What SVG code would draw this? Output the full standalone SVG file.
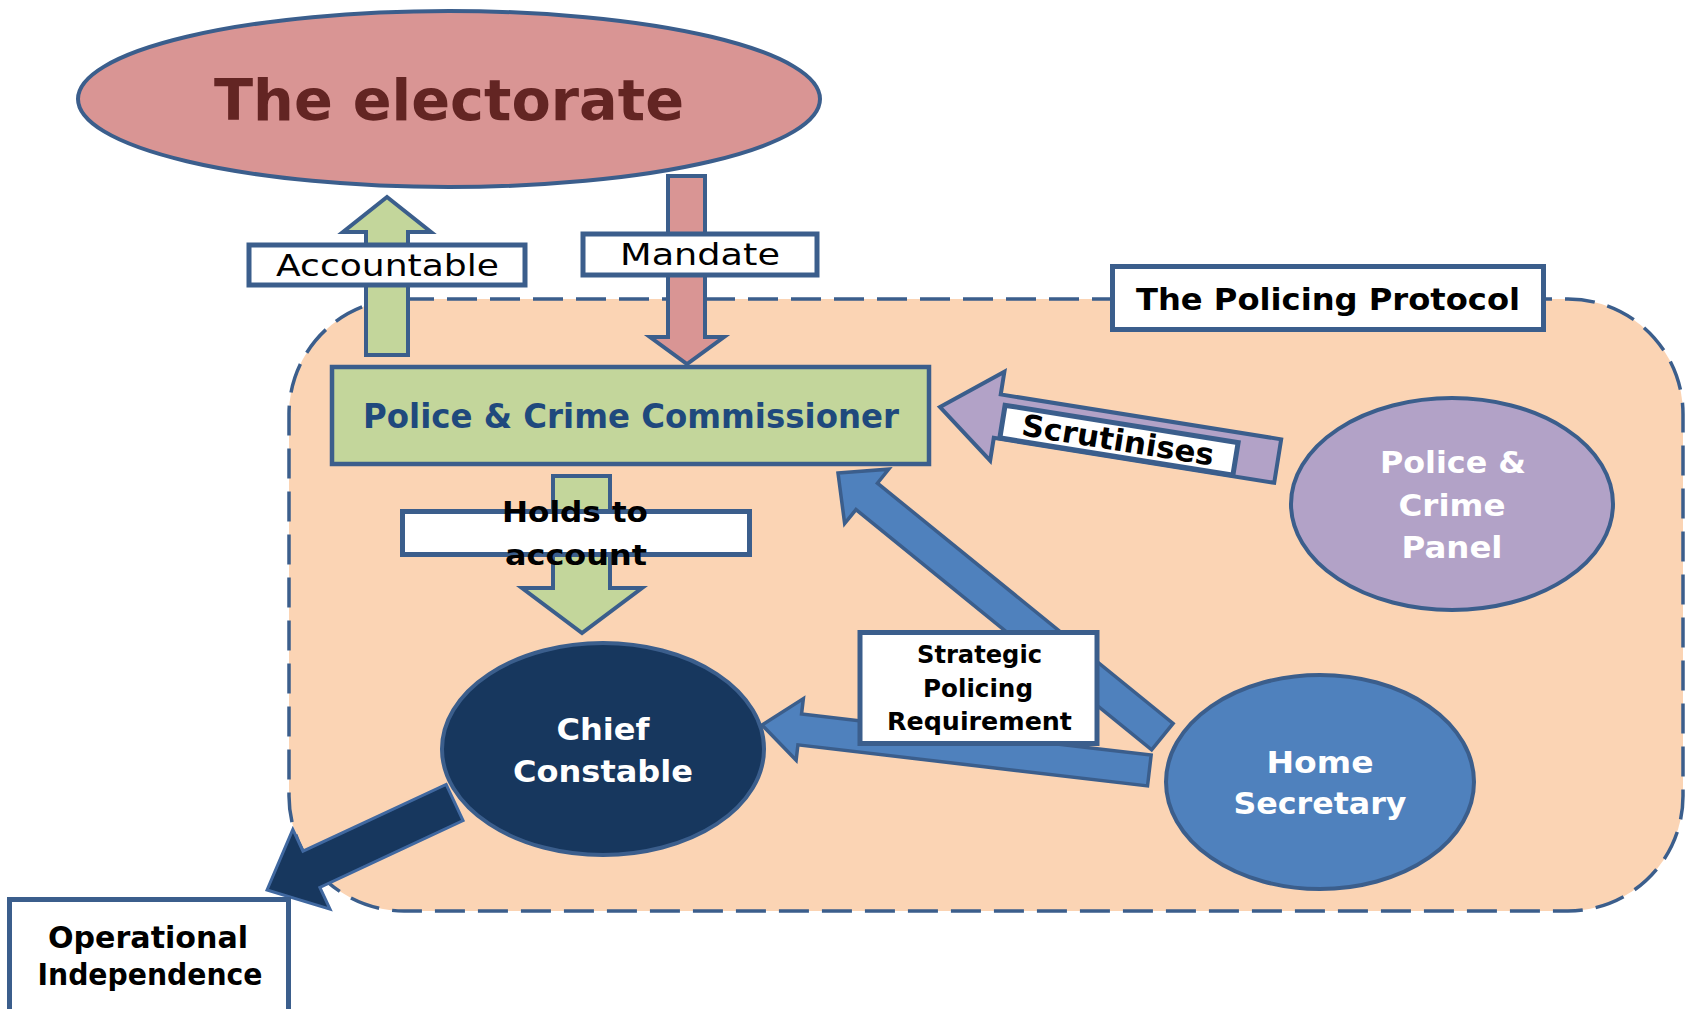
<svg xmlns="http://www.w3.org/2000/svg" width="1690" height="1009" viewBox="0 0 1690 1009">
<style>
text{font-family:"DejaVu Sans","Liberation Sans",sans-serif;text-anchor:middle}
.b{font-weight:bold}
.lbl{fill:#ffffff;stroke:#3b5e8c;stroke-width:5}
.arr{stroke:#3b5e8c;stroke-width:4;stroke-linejoin:miter}
.green{fill:#c3d69b}
.pink{fill:#d99594}
.purple{fill:#b2a2c7}
.blue{fill:#4f81bd;stroke-width:3.5}
.navy{fill:#17375e;stroke:#4068a0;stroke-width:3}
.wt{fill:#ffffff;font-weight:bold}
</style>
<rect width="1690" height="1009" fill="#ffffff"/>

<g id="policing-protocol-area">
<rect x="289" y="299" width="1394" height="612" rx="115" ry="115" fill="#fbd4b4" stroke="#3b5e8c" stroke-width="3.5" stroke-dasharray="30 13"/>
</g>

<g id="connectors">
<!-- Accountable: PCC up to electorate -->
<polygon class="arr green" points="366,355 366,232 343,232 387,197 431,232 408,232 408,355"/>
<!-- Mandate: electorate down to PCC -->
<polygon class="arr pink" points="668,176 705,176 705,337 724,337 687,364 650,337 668,337"/>
<!-- Holds to account: PCC down to Chief Constable -->
<polygon class="arr green" points="553,476 610,476 610,588 642,588 582,633 522,588 553,588"/>
<!-- Scrutinises: Panel to PCC -->
<g transform="translate(940,407) rotate(9.1)">
<polygon class="arr purple" stroke-width="5" points="0,0 58,-45 58,-22 342,-22 342,22 58,22 58,45"/>
<rect x="64" y="-12" width="236" height="33" class="lbl" stroke-width="4.5"/>
<text x="181" y="15" class="b" font-size="30" textLength="194" lengthAdjust="spacingAndGlyphs">Scrutinises</text>
</g>
<!-- Home Secretary to PCC -->
<g transform="translate(838,473) rotate(39.1)">
<polygon class="arr blue" points="0,0 37,-35 37,-17 418,-17 418,17 37,17 37,35"/>
</g>
<!-- Home Secretary to Chief Constable -->
<g transform="translate(762,725) rotate(6.7)">
<polygon class="arr blue" points="0,0 38,-31 38,-15.5 390,-15.5 390,15.5 38,15.5 38,31"/>
</g>
<!-- Chief Constable to Operational Independence -->
<g transform="translate(267,890) rotate(-25)">
<polygon class="navy" points="0,0 49,-44 49,-20 207,-20 207,20 49,20 49,44"/>
</g>
</g>

<g id="electorate">
<ellipse cx="449" cy="99" rx="371" ry="88" fill="#d99594" stroke="#3b5e8c" stroke-width="4"/>
<text x="449" y="120" class="b" font-size="57" fill="#632523" textLength="470" lengthAdjust="spacingAndGlyphs">The electorate</text>
</g>

<g id="label-accountable">
<rect x="249" y="245" width="276" height="40" class="lbl" stroke-width="4.5"/>
<text x="387.5" y="276" font-size="30" fill="#000" textLength="223" lengthAdjust="spacingAndGlyphs">Accountable</text>
</g>

<g id="label-mandate">
<rect x="583" y="234" width="234" height="41" class="lbl" stroke-width="4.5"/>
<text x="700" y="265" font-size="30" fill="#000" textLength="160" lengthAdjust="spacingAndGlyphs">Mandate</text>
</g>

<g id="label-policing-protocol">
<rect x="1112.5" y="266.5" width="431" height="63" class="lbl"/>
<text x="1328" y="310" class="b" font-size="31" fill="#000" textLength="384" lengthAdjust="spacingAndGlyphs">The Policing Protocol</text>
</g>

<g id="pcc">
<rect x="332" y="367" width="597" height="97" fill="#c3d69b" stroke="#3b5e8c" stroke-width="4.5"/>
<text x="631" y="428" class="b" font-size="33" fill="#1f497d" textLength="536" lengthAdjust="spacingAndGlyphs">Police &amp; Crime Commissioner</text>
</g>

<g id="label-holds-to-account">
<rect x="402.5" y="511.5" width="347" height="43" class="lbl"/>
<text x="575" y="522" class="b" font-size="28" fill="#000" textLength="146" lengthAdjust="spacingAndGlyphs">Holds to</text>
<text x="576" y="565" class="b" font-size="28" fill="#000" textLength="142" lengthAdjust="spacingAndGlyphs">account</text>
</g>

<g id="panel">
<ellipse cx="1452" cy="504" rx="161" ry="106" fill="#b2a2c7" stroke="#3b5e8c" stroke-width="4"/>
<text x="1453" y="473" class="wt" font-size="30" fill="#f4f0f8" textLength="146" lengthAdjust="spacingAndGlyphs">Police &amp;</text>
<text x="1452" y="516" class="wt" font-size="30" textLength="107" lengthAdjust="spacingAndGlyphs">Crime</text>
<text x="1452" y="558" class="wt" font-size="30" textLength="101" lengthAdjust="spacingAndGlyphs">Panel</text>
</g>

<g id="chief-constable">
<ellipse cx="603" cy="749" rx="161" ry="106" fill="#17375e" stroke="#3b5e8c" stroke-width="4"/>
<text x="603" y="740" class="wt" font-size="31" textLength="93" lengthAdjust="spacingAndGlyphs">Chief</text>
<text x="603" y="782" class="wt" font-size="31" textLength="180" lengthAdjust="spacingAndGlyphs">Constable</text>
</g>

<g id="home-secretary">
<ellipse cx="1320" cy="782" rx="154" ry="107" fill="#4f81bd" stroke="#3b5e8c" stroke-width="4"/>
<text x="1320" y="773" class="wt" font-size="30" textLength="107" lengthAdjust="spacingAndGlyphs">Home</text>
<text x="1320" y="814" class="wt" font-size="30" textLength="173" lengthAdjust="spacingAndGlyphs">Secretary</text>
</g>

<g id="label-strategic-policing-requirement">
<rect x="860" y="632.5" width="237" height="111" class="lbl"/>
<text x="979.5" y="663" class="b" font-size="24" fill="#000" textLength="125" lengthAdjust="spacingAndGlyphs">Strategic</text>
<text x="978" y="697" class="b" font-size="24" fill="#000" textLength="110" lengthAdjust="spacingAndGlyphs">Policing</text>
<text x="979.5" y="730" class="b" font-size="24" fill="#000" textLength="185" lengthAdjust="spacingAndGlyphs">Requirement</text>
</g>

<g id="operational-independence">
<rect x="9.5" y="899.5" width="279" height="120" class="lbl" stroke-width="5.5"/>
<text x="148" y="948" class="b" font-size="30" fill="#000" textLength="200" lengthAdjust="spacingAndGlyphs">Operational</text>
<text x="150" y="985" class="b" font-size="30" fill="#000" textLength="225" lengthAdjust="spacingAndGlyphs">Independence</text>
</g>
</svg>
